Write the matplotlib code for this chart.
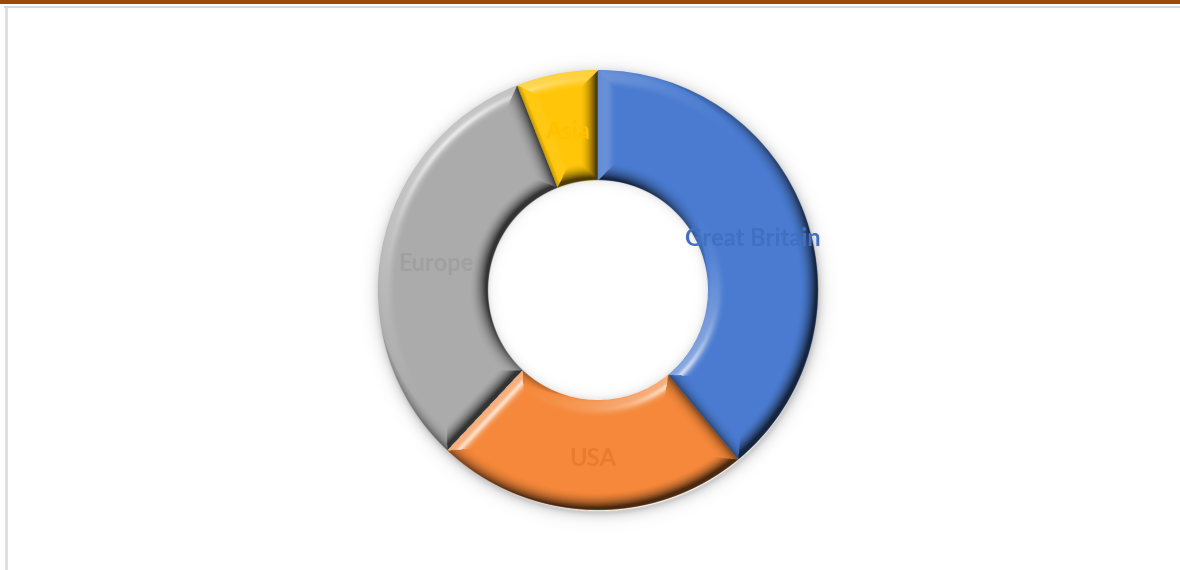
import numpy as np
import matplotlib
matplotlib.use("Agg")
import matplotlib.pyplot as plt
from matplotlib.patches import Rectangle

categories = ["Great Britain", "USA", "Europe", "Asia"]
values = [39, 23, 32, 6]
fill_colors = ["#4a7bd0", "#f5883a", "#ababab", "#ffc609"]
label_colors = ["#4170c2", "#ea7a2e", "#a0a0a0", "#ffc000"]

fig = plt.figure(figsize=(11.8, 5.7), dpi=100)
fig.patch.set_facecolor("white")
ax = fig.add_axes([0, 0, 1, 1])

cx, cy, R = 598, 280, 220
ring = 0.5 * R
rin = R - ring

wedges, texts = ax.pie(values, radius=R, center=(cx, cy), startangle=90, counterclock=False,
                       colors=fill_colors, labels=categories, labeldistance=0.75,
                       wedgeprops=dict(width=ring, edgecolor="none", linewidth=0),
                       textprops=dict(fontsize=17, fontweight="bold", family="Lato"))
for w in wedges:
    w.set_zorder(2)
for t, c in zip(texts, label_colors):
    t.set_color(c)
    t.set_ha("center")
    t.set_va("center")
    t.set_zorder(10)
    px, py = t.get_position()
    t.set_position((px, py - 4))

# ---- lighting overlay (bevel), computed from the pie's own wedge geometry ----
S = 2
pad = 30
x0, x1 = cx - R - pad, cx + R + pad
y0, y1 = cy - R - pad, cy + R + pad
nx = int((x1 - x0) * S)
ny = int((y1 - y0) * S)
gx = x0 + (np.arange(nx) + 0.5) / S
gy = y0 + (np.arange(ny) + 0.5) / S
X, Y = np.meshgrid(gx, gy)
dx, dy = X - cx, Y - cy
r = np.hypot(dx, dy)
ang = np.degrees(np.arctan2(dy, dx)) % 360
rr = np.maximum(r, 1e-9)
ux, uy = dx / rr, dy / rr

dist = R - r
nxv, nyv = ux.copy(), uy.copy()
d_in = r - rin
m = d_in < dist
dist = np.where(m, d_in, dist)
nxv = np.where(m, -ux, nxv)
nyv = np.where(m, -uy, nyv)
for w in wedges:
    t1, t2 = w.theta1, w.theta2
    span = t2 - t1
    rel = (ang - t1) % 360
    inside = rel < span
    d1 = r * np.sin(np.radians(np.clip(rel, 0, 90)))
    d2 = r * np.sin(np.radians(np.clip(span - rel, 0, 90)))
    a1, a2 = np.radians(t1), np.radians(t2)
    m1 = inside & (d1 < dist)
    dist = np.where(m1, d1, dist)
    nxv = np.where(m1, np.sin(a1), nxv)
    nyv = np.where(m1, -np.cos(a1), nyv)
    m2 = inside & (d2 < dist)
    dist = np.where(m2, d2, dist)
    nxv = np.where(m2, -np.sin(a2), nxv)
    nyv = np.where(m2, np.cos(a2), nyv)

bw = 18.0
tt = np.clip(1 - dist / bw, 0, 1)
phi = np.radians(62) * tt ** 1.5
nX = np.sin(phi) * nxv
nY = np.sin(phi) * nyv
nZ = np.cos(phi)
L = np.array([-0.5, 0.55, 0.67])
L = L / np.linalg.norm(L)
I = nX * L[0] + nY * L[1] + nZ * L[2]
shade = I - L[2]
H = L + np.array([0, 0, 1.0])
H = H / np.linalg.norm(H)
spec = np.clip(nX * H[0] + nY * H[1] + nZ * H[2], 0, 1) ** 60
edge_dark = 0.12 * tt ** 3

cov = np.clip(R - r + 0.5, 0, 1) * np.clip(r - rin + 0.5, 0, 1)
rgba = np.zeros((ny, nx, 4))
pos = shade > 0
white_a = np.clip(shade * 1.0 + spec * 0.5, 0, 0.75)
black_a = np.clip(-shade * 0.95 + edge_dark, 0, 0.7)
lum = np.where(pos | (spec > 0.05), 1.0, 0.0)
alpha = np.where(lum > 0.5, white_a, black_a)
rgba[..., 0] = lum
rgba[..., 1] = lum
rgba[..., 2] = lum
rgba[..., 3] = alpha * cov
ax.imshow(rgba, extent=(x0, x1, y0, y1), origin="lower", interpolation="antialiased", zorder=3)

# ---- soft shadow around and inside the ring ----
rs = np.hypot(X - (cx + 1), Y - (cy - 3))
sh = np.zeros((ny, nx, 4))
out_sh = np.where(rs > R - 2, 0.20 * np.exp(-np.clip(rs - R, 0, None) / 5.0), 0)
in_sh = np.where(r < rin, 0.10 * np.exp(-np.clip(rin - r, 0, None) / 4.0), 0)
sh[..., 3] = out_sh + in_sh
ax.imshow(sh, extent=(x0, x1, y0, y1), origin="lower", interpolation="antialiased", zorder=1)

# frame decorations
ax.add_patch(Rectangle((0, 566), 1180, 4, facecolor="#9c4a09", lw=0, zorder=20))
ax.plot([5, 1180], [563.5, 563.5], color="#d9d9d9", lw=1.5, zorder=20)
ax.plot([6, 6], [0, 563.5], color="#d9d9d9", lw=1.8, zorder=20)

ax.set_xlim(0, 1180)
ax.set_ylim(0, 570)
ax.set_aspect("auto")
ax.axis("off")

fig.savefig("out.png", dpi=100)
